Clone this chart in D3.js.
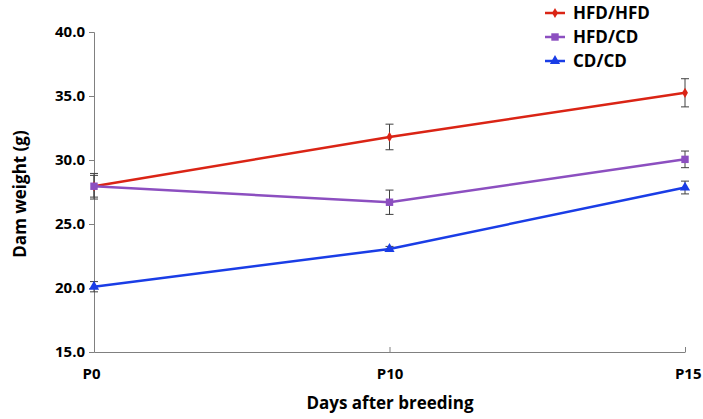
<!DOCTYPE html>
<html><head><meta charset="utf-8">
<script src="https://cdn.jsdelivr.net/npm/d3@7"></script>
<style>body{margin:0;background:#fff}svg text{font-family:"Open Sans",sans-serif;font-weight:700}</style>
</head><body><svg id="c" width="703" height="419"></svg>
<script>
const categories = ["P0","P10","P15"];
const seriesNames = ["HFD/HFD","HFD/CD","CD/CD"];
const hfdhfd = [27.95, 31.8, 35.25];
const hfdhfdErr = [1.0, 1.0, 1.1];
const hfdcd = [27.95, 26.7, 30.05];
const hfdcdErr = [0.85, 0.95, 0.65];
const cdcd = [20.1, 23.05, 27.85];
const cdcdErr = [0.4, 0.2, 0.5];
const yTicks = [15,20,25,30,35,40];
const colors = ["#da2415","#8c4fc0","#1a3de6"];
const symbols = [d3.symbolDiamond, d3.symbolSquare, d3.symbolTriangle];
const symSizes = [30, 55, 45];

const svg = d3.select("#c");
const x = d3.scalePoint().domain(categories).range([94, 685]);
const y = d3.scaleLinear().domain([15, 40]).range([352, 32]);

// y axis
const ya = svg.append("g").attr("transform","translate(94,0)")
  .call(d3.axisLeft(y).tickValues(yTicks).tickFormat(d3.format(".1f")).tickSize(5).tickPadding(4));
ya.select(".domain").attr("stroke","#808080");
ya.selectAll(".tick line").attr("stroke","#808080");
ya.selectAll("text").attr("font-size",15).attr("fill","#000").attr("font-family","Open Sans").attr("font-weight",700);

// x axis
const xa = svg.append("g").attr("transform","translate(0,352)")
  .call(d3.axisBottom(x).tickSize(-5).tickPadding(16).tickSizeOuter(0));
xa.select(".domain").attr("stroke","#808080");
xa.selectAll(".tick line").attr("stroke","#808080");
xa.selectAll("text").attr("font-size",15).attr("fill","#000").attr("font-family","Open Sans").attr("font-weight",700);
xa.selectAll(".tick text").attr("text-anchor",(d,i)=> i===0?"start":(i===categories.length-1?"end":"middle"))
  .attr("dx",(d,i)=> i===0?-12:(i===categories.length-1?16:0));

svg.append("text").attr("x",390).attr("y",409).attr("text-anchor","middle")
  .attr("font-size",17).text("Days after breeding");
svg.append("text").attr("transform","translate(26,194) rotate(-90)").attr("text-anchor","middle")
  .attr("font-size",17).text("Dam weight (g)");

const series = [
  {name: seriesNames[0], v: hfdhfd, e: hfdhfdErr},
  {name: seriesNames[1], v: hfdcd, e: hfdcdErr},
  {name: seriesNames[2], v: cdcd, e: cdcdErr}
];
const line = d3.line().x((d,i)=>x(categories[i])).y(d=>y(d));

series.forEach((s, si) => {
  const g = svg.append("g");
  s.v.forEach((v, i) => {
    const cx = x(categories[i]);
    const e = s.e[i];
    g.append("line").attr("x1",cx).attr("x2",cx).attr("y1",y(v+e)).attr("y2",y(v-e)).attr("stroke","#404040").attr("stroke-width",1);
    [v+e, v-e].forEach(w => g.append("line").attr("x1",cx-4).attr("x2",cx+4).attr("y1",y(w)).attr("y2",y(w)).attr("stroke","#404040").attr("stroke-width",1));
  });
});
series.forEach((s, si) => {
  const g = svg.append("g");
  g.append("path").datum(s.v).attr("d",line).attr("fill","none").attr("stroke",colors[si]).attr("stroke-width",2.5);
  g.selectAll("path.m").data(s.v).enter().append("path").attr("class","m")
    .attr("d", d3.symbol().type(symbols[si]).size(symSizes[si]))
    .attr("transform",(d,i)=>`translate(${x(categories[i])},${y(d)})`)
    .attr("fill",colors[si]);
});

// legend
const legY = [13, 37, 61];
series.forEach((s, si) => {
  const g = svg.append("g").attr("transform",`translate(545,${legY[si]})`);
  g.append("line").attr("x1",0).attr("x2",20).attr("y1",0).attr("y2",0).attr("stroke",colors[si]).attr("stroke-width",2.5);
  g.append("path").attr("d", d3.symbol().type(symbols[si]).size(symSizes[si])).attr("transform","translate(10,0)").attr("fill",colors[si]);
  g.append("text").attr("x",28).attr("y",0).attr("dy","0.35em").attr("font-size",17).text(s.name);
});
</script></body></html>
